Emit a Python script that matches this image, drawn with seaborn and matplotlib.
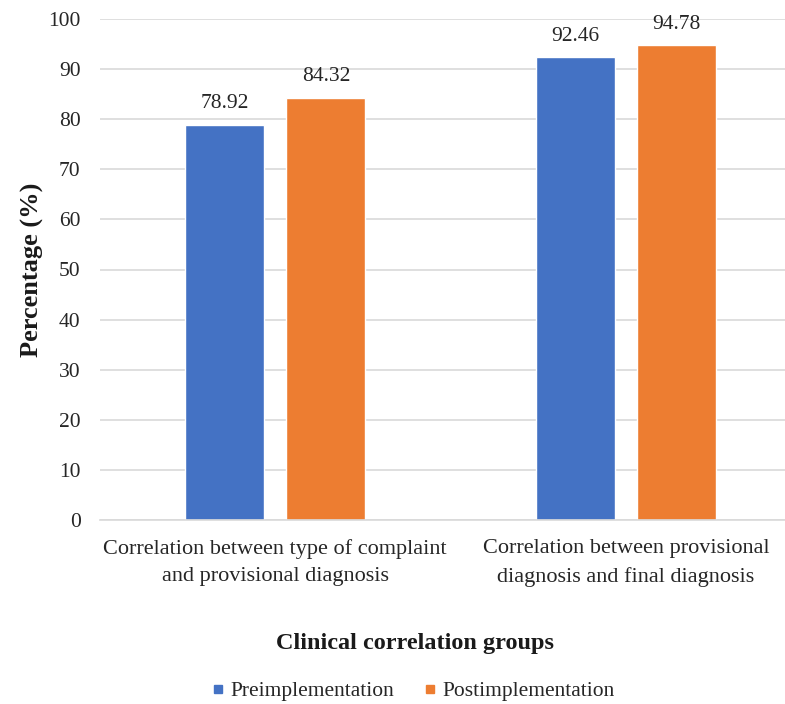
import matplotlib
matplotlib.use("Agg")
import matplotlib.pyplot as plt
import seaborn as sns
import pandas as pd

categories = ["Correlation between type of complaint\nand provisional diagnosis",
              "Correlation between provisional\ndiagnosis and final diagnosis"]
series_names = ["Preimplementation", "Postimplementation"]
pre_values = [78.92, 92.46]
post_values = [84.32, 94.78]
yticks = [0, 10, 20, 30, 40, 50, 60, 70, 80, 90, 100]

df = pd.DataFrame({
    "group": categories * 2,
    "phase": [series_names[0]] * 2 + [series_names[1]] * 2,
    "value": pre_values + post_values,
})

sns.set_theme(style="white")
plt.rcParams["font.family"] = ["Liberation Serif", "DejaVu Serif"]

fig = plt.figure(figsize=(7.85, 7.04), dpi=100)
ax = fig.add_axes([100 / 785, 1 - 520 / 704, 1 - 100 / 785, (520 - 19) / 704])

palette = {"Preimplementation": "#4472C4", "Postimplementation": "#ED7D31"}
sns.barplot(data=df, x="group", y="value", hue="phase", order=categories,
            hue_order=series_names, palette=palette, width=0.577, gap=0.218,
            saturation=1, ax=ax, legend=True)

for cont in ax.containers:
    ax.bar_label(cont, fmt="%.2f", padding=8, fontsize=15.5, color="#262626")

ax.set_ylim(0, 100)
ax.set_xlim(-0.5, 1.454)
ax.set_yticks(yticks)
ax.set_yticklabels([str(t) for t in yticks], fontsize=15.5, color="#262626")
ax.set_xticks(range(len(categories)))
ax.set_xticklabels(categories, fontsize=16, color="#262626", linespacing=1.55)
ax.tick_params(axis="x", length=0, pad=14)
ax.tick_params(axis="y", length=0, pad=14)
ax.yaxis.grid(True, color="#D9D9D9", linewidth=1.2)
ax.set_axisbelow(True)
for s in ["top", "right", "left"]:
    ax.spines[s].set_visible(False)
ax.spines["bottom"].set_color("#D9D9D9")
ax.spines["bottom"].set_linewidth(1.2)

ax.set_ylabel("Percentage (%)", fontsize=19, fontweight="bold", color="#1a1a1a", labelpad=3)
ax.set_xlabel("")
fig.text(415 / 785, 1 - 643 / 704, "Clinical correlation groups", ha="center", va="center",
         fontsize=17.5, fontweight="bold", color="#1a1a1a")

ax.legend_.remove()
handles = [plt.Line2D([], [], marker="s", linestyle="", color=palette[n], markersize=6) for n in series_names]
fig.legend(handles, series_names, loc="center", bbox_to_anchor=(411 / 785, 1 - 691 / 704),
           ncol=2, frameon=False, fontsize=15.5, handletextpad=0.05, columnspacing=1.2,
           handlelength=1.0, labelcolor="#262626")

fig.savefig("out.png", dpi=100)
